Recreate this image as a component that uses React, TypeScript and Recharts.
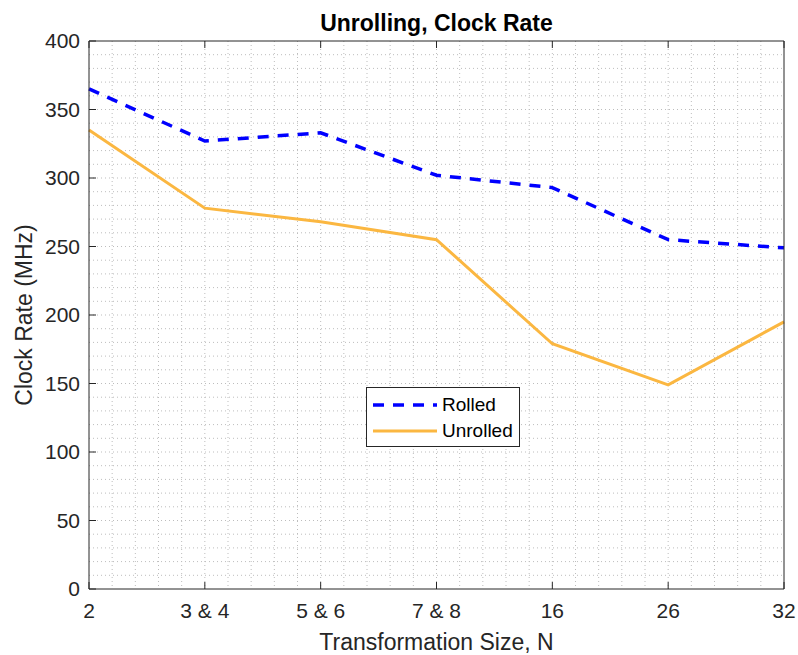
import React from 'react';
import { LineChart, Line, XAxis, YAxis, CartesianGrid, Legend } from 'recharts';

// transformation sizes on the x axis
const sizes = ['2', '3 & 4', '5 & 6', '7 & 8', '16', '26', '32'];
// clock rate in MHz
const rolledMHz = [365, 327, 333, 302, 293, 255, 249];
const unrolledMHz = [335, 278, 268, 255, 179, 149, 195];
const yTicks = [0, 50, 100, 150, 200, 250, 300, 350, 400];

const data = sizes.map((s, i) => ({
  idx: i,
  rolled: rolledMHz[i],
  unrolled: unrolledMHz[i],
}));
const xTicks = sizes.map((_, i) => i);

const axisColor = '#262626';
const blue = '#0000ff';
const orange = '#fbb741';
const TICK = 7;

// dotted minor grid: 5 per x step, every 10 MHz on y
const vGrid = ({ offset }: any) => {
  const out: number[] = [];
  for (let i = 1; i < 30; i++) out.push(offset.left + (offset.width * i) / 30);
  return out;
};
const hGrid = ({ offset }: any) => {
  const out: number[] = [];
  for (let i = 1; i < 40; i++) out.push(offset.top + (offset.height * i) / 40);
  return out;
};

// ticks point into the plot box, like matlab
const BottomTick = ({ x, y, payload }: any) => (
  <g>
    <line x1={x} x2={x} y1={y - 14} y2={y - 14 - TICK} stroke={axisColor} />
    <text x={x} y={y} dy="0.71em" textAnchor="middle" fill={axisColor} fontSize={21}>
      {sizes[payload.value]}
    </text>
  </g>
);
const TopTick = ({ x, y }: any) => (
  <line x1={x} x2={x} y1={y + 2} y2={y + 2 + TICK} stroke={axisColor} />
);
const LeftTick = ({ x, y, payload }: any) => (
  <g>
    <line x1={x + 9} x2={x + 9 + TICK} y1={y} y2={y} stroke={axisColor} />
    <text x={x} y={y} dy="0.355em" textAnchor="end" fill={axisColor} fontSize={21}>
      {payload.value}
    </text>
  </g>
);
const RightTick = ({ x, y }: any) => (
  <line x1={x - 2} x2={x - 2 - TICK} y1={y} y2={y} stroke={axisColor} />
);

const legendItems = [
  { name: 'Rolled', color: blue, dash: '11 9', width: 3.5 },
  { name: 'Unrolled', color: orange, dash: undefined, width: 3 },
];

const renderLegend = () => (
  <div
    style={{
      width: 154,
      height: 60,
      boxSizing: 'border-box',
      border: `1px solid ${axisColor}`,
      background: '#fff',
      paddingTop: 4,
    }}
  >
    {legendItems.map((it) => (
      <div key={it.name} style={{ display: 'flex', alignItems: 'center', height: 26 }}>
        <svg width={72} height={26}>
          <line x1={6} x2={70} y1={13} y2={13} stroke={it.color} strokeWidth={it.width} strokeDasharray={it.dash} />
        </svg>
        <span style={{ marginLeft: 3, fontSize: 19, color: '#000' }}>{it.name}</span>
      </div>
    ))}
  </div>
);

const App = () => {
  return (
    <div style={{ position: 'absolute', left: 0, top: 0, fontFamily: '"Liberation Sans", Arial, sans-serif', background: '#fff' }}>
      <LineChart width={798} height={655} data={data} margin={{ top: 39, right: 12, left: 0, bottom: 0 }}>
        <CartesianGrid
          stroke="#bdbdbd"
          strokeDasharray="1 3"
          verticalCoordinatesGenerator={vGrid}
          horizontalCoordinatesGenerator={hGrid}
        />
        <XAxis
          dataKey="idx"
          type="number"
          domain={[0, 6]}
          ticks={xTicks}
          height={66}
          tickSize={0}
          tickMargin={14}
          tickLine={false}
          tick={<BottomTick />}
          stroke={axisColor}
          label={{ value: 'Transformation Size, N', position: 'insideBottom', offset: 5, fill: axisColor, fontSize: 23 }}
        />
        <XAxis
          xAxisId="top"
          orientation="top"
          dataKey="idx"
          type="number"
          domain={[0, 6]}
          ticks={xTicks}
          height={2}
          tickSize={0}
          tickMargin={2}
          tickLine={false}
          tick={<TopTick />}
          stroke={axisColor}
          label={{ value: 'Unrolling, Clock Rate', position: 'top', offset: 8, fill: '#000', fontSize: 23, fontWeight: 'bold' }}
        />
        <YAxis
          domain={[0, 400]}
          ticks={yTicks}
          width={89}
          tickSize={0}
          tickMargin={9}
          tickLine={false}
          tick={<LeftTick />}
          stroke={axisColor}
          label={{ value: 'Clock Rate (MHz)', angle: -90, position: 'insideLeft', offset: 24, fill: axisColor, fontSize: 23, style: { textAnchor: 'middle' } }}
        />
        <YAxis
          yAxisId="right"
          orientation="right"
          domain={[0, 400]}
          ticks={yTicks}
          width={2}
          tickSize={0}
          tickMargin={2}
          tickLine={false}
          tick={<RightTick />}
          stroke={axisColor}
        />
        <Legend
          content={renderLegend}
          layout="vertical"
          align="center"
          verticalAlign="middle"
          wrapperStyle={{ left: 366, top: 387, width: 154, height: 60 }}
        />
        <Line
          type="linear"
          dataKey="rolled"
          stroke={blue}
          strokeWidth={3.5}
          strokeDasharray="11 9"
          dot={false}
          isAnimationActive={false}
        />
        <Line
          type="linear"
          dataKey="unrolled"
          stroke={orange}
          strokeWidth={3}
          dot={false}
          isAnimationActive={false}
        />
      </LineChart>
    </div>
  );
};

export default App;
